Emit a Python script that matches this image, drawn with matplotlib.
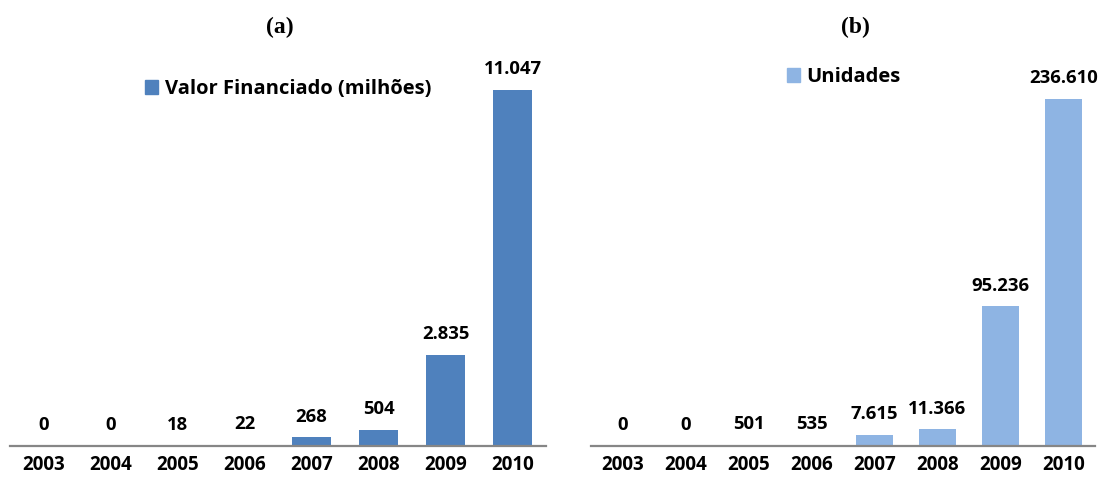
import matplotlib
matplotlib.use("Agg")
import matplotlib.pyplot as plt
from matplotlib.patches import Patch

anos = ["2003", "2004", "2005", "2006", "2007", "2008", "2009", "2010"]
valor_financiado = [0, 0, 18, 22, 268, 504, 2835, 11047]
unidades = [0, 0, 501, 535, 7615, 11366, 95236, 236610]
rotulos_valor = ["0", "0", "18", "22", "268", "504", "2.835", "11.047"]
rotulos_unid = ["0", "0", "501", "535", "7.615", "11.366", "95.236", "236.610"]

W, H = 1100, 491
fig = plt.figure(figsize=(W / 100, H / 100), dpi=100)
fonte = "Open Sans"


def px(x0, x1, y_top, y_base):
    # caixa em pixels -> fracoes da figura
    return [x0 / W, (H - y_base) / H, (x1 - x0) / W, (y_base - y_top) / H]


def painel(ret, valores, rotulos, cor, legenda, titulo, tit_x, leg_x, leg_y, alt_max):
    ax = fig.add_axes(ret)
    xs = range(len(anos))
    ax.bar(xs, valores, width=0.58, color=cor)
    ax.set_xlim(-0.5, 7.5)
    # altura do eixo em pixels / altura da maior barra em pixels
    ax.set_ylim(0, max(valores) * (ret[3] * H) / alt_max)
    for x, v, r in zip(xs, valores, rotulos):
        ax.annotate(r, (x, v), xytext=(0, 8.5), textcoords="offset points",
                    ha="center", va="bottom", fontsize=13.3, fontweight="bold",
                    family=fonte)
    ax.set_xticks(list(xs))
    ax.set_xticklabels(anos, fontsize=13.5, fontweight="bold", family=fonte)
    ax.tick_params(axis="x", length=0, pad=6.5)
    ax.set_yticks([])
    for s in ["top", "left", "right"]:
        ax.spines[s].set_visible(False)
    ax.spines["bottom"].set_color("#868686")
    ax.spines["bottom"].set_linewidth(1.6)
    ax.legend(handles=[Patch(color=cor, label=legenda)], loc="center left",
              bbox_to_anchor=(leg_x / W, 1 - leg_y / H),
              bbox_transform=fig.transFigure, frameon=False,
              borderpad=0, borderaxespad=0, handlelength=0.65,
              handleheight=0.65, handletextpad=0.33,
              prop={"family": fonte, "weight": "bold", "size": 14.5})
    fig.text(tit_x / W, 1 - 27 / H, titulo, ha="center", va="center",
             fontsize=17, fontweight="bold", family="Liberation Serif")
    return ax


painel(px(10, 546, 40, 446), valor_financiado, rotulos_valor, "#4F81BD",
       "Valor Financiado (milhões)", "(a)", 280, 145, 89, 356)
painel(px(591, 1095, 40, 446), unidades, rotulos_unid, "#8EB4E3",
       "Unidades", "(b)", 855, 787, 77, 347)

fig.savefig("out.png", dpi=100)
